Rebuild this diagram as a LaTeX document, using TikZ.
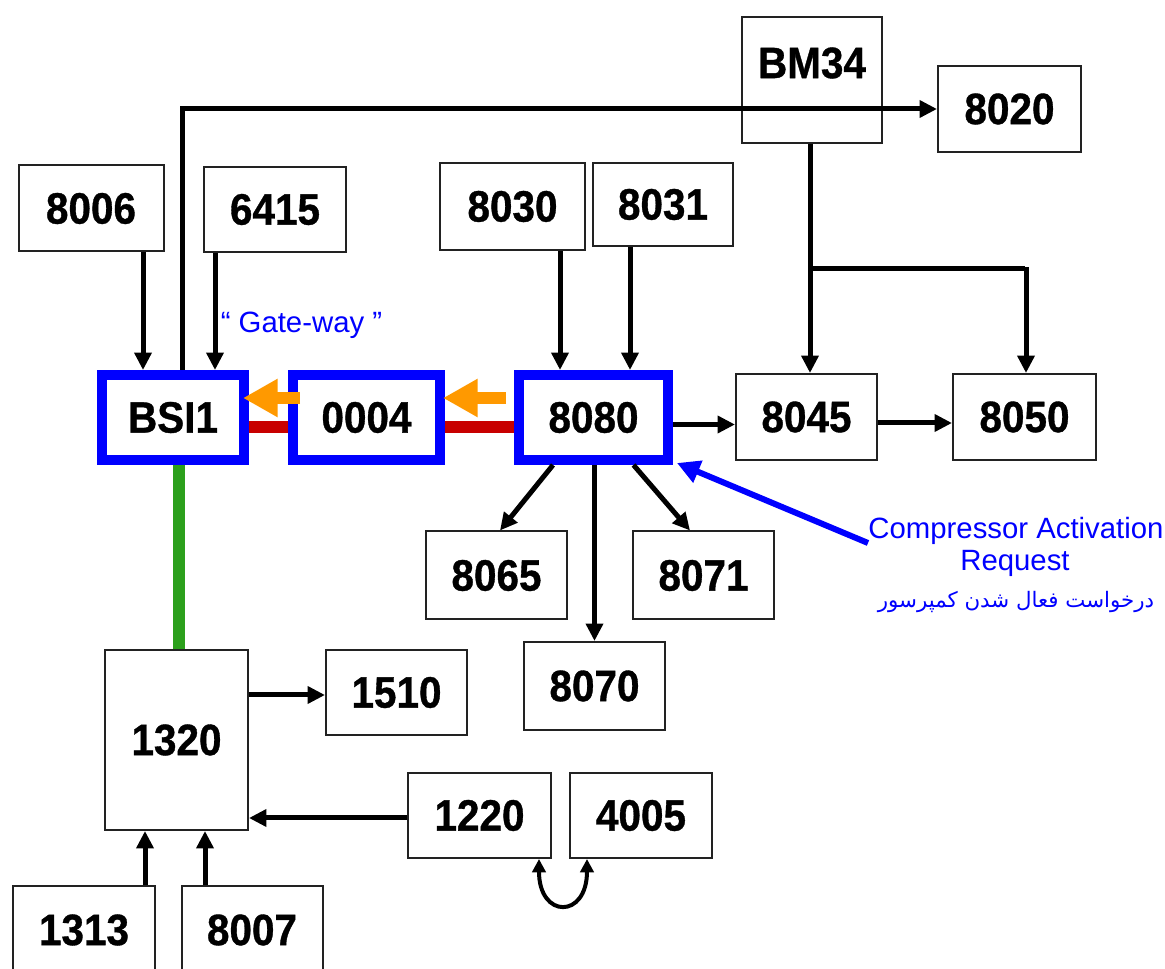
\documentclass[tikz,border=0pt]{standalone}
\usepackage{fontspec}
\setmainfont{Liberation Sans}
\newfontfamily\numfont[FakeStretch=0.92,FakeBold=0.8]{Liberation Sans}
\newfontfamily\persianfont[Script=Arabic]{DejaVu Sans}
\TeXXeTstate=1
\usetikzlibrary{arrows.meta,calc}
\definecolor{boxline}{HTML}{222222}
\definecolor{redbus}{HTML}{C80000}
\definecolor{greenbus}{HTML}{2CA01C}
\definecolor{orangearr}{HTML}{FF9900}
\tikzset{
  numtxt/.style={font=\numfont\bfseries\fontsize{33}{33}\selectfont},
  box/.style 2 args={draw=boxline, line width=1.5pt, fill=white, minimum width=#1*0.75pt, minimum height=#2*0.75pt, inner sep=0pt, numtxt},
  bbox/.style 2 args={draw=blue, line width=7.5pt, fill=white, minimum width=#1*0.75pt, minimum height=#2*0.75pt, inner sep=0pt, numtxt},
  conn/.style={line width=3.75pt, draw=black, -{Triangle[length=13pt,width=12.5pt]}},
  plain/.style={line width=3.75pt, draw=black},
  redbusline/.style={line width=9pt, draw=redbus},
  greenbusline/.style={line width=9pt, draw=greenbus},
  orangeflow/.style={line width=9pt, draw=orangearr, -{Triangle[length=26pt,width=27pt]}},
  bluearrow/.style={line width=4.5pt, draw=blue, -{Triangle[length=17pt,width=17pt]}},
  bluetxt/.style={text=blue, font=\fontsize{22}{22}\selectfont, inner sep=0pt},
}
\begin{document}
\begin{tikzpicture}[x=0.75pt,y=-0.75pt]
\useasboundingbox (0,0) rectangle (1165,969);
\fill[white] (0,0) rectangle (1165,969);

% plain boxes
\node[box={140}{126}] (bm34) at (812,80) {};
\node[numtxt] (bm34t) at (812,63) {BM34};
\node[box={143}{86}] (n8020) at (1009.5,109) {8020};
\node[box={145}{86}] (n8006) at (91,208.5) {8006};
\node[box={142}{85}] (n6415) at (275,209.5) {6415};
\node[box={145}{87}] (n8030) at (512.5,206.5) {8030};
\node[box={140}{83}] (n8031) at (663,204.5) {8031};
\node[box={141}{86}] (n8045) at (806.5,417) {8045};
\node[box={143}{86}] (n8050) at (1024.5,417) {8050};
\node[box={141}{88}] (n8065) at (496.5,575.5) {8065};
\node[box={141}{88}] (n8071) at (703.5,575.5) {8071};
\node[box={141}{88}] (n8070) at (594.5,686) {8070};
\node[box={143}{180}] (n1320) at (176.5,740) {1320};
\node[box={141}{85}] (n1510) at (396.5,692.5) {1510};
\node[box={143}{85}] (n1220) at (479.5,815.5) {1220};
\node[box={142}{85}] (n4005) at (641,815.5) {4005};
\node[box={142}{88}] (n1313) at (84,930) {1313};
\node[box={141}{88}] (n8007) at (252,930) {8007};

% blue boxes
\node[bbox={142}{85}] (bsi1) at (173,417.5) {BSI1};
\node[bbox={147}{85}] (n0004) at (366.5,417.5) {0004};
\node[bbox={149}{85}] (n8080) at (593.5,417.5) {8080};

% buses
\draw[redbusline] ($(bsi1.east)+(0,9.5)$) coordinate (r1) -- (r1 -| n0004.west);
\draw[redbusline] ($(n0004.east)+(0,9.5)$) coordinate (r2) -- (r2 -| n8080.west);
\draw[greenbusline] ($(bsi1.south)+(6,0)$) coordinate (g1) -- (g1 |- n1320.north);

% gateway flows
\draw[orangeflow] ($(n0004.west)+(12,-19.5)$) -- ($(bsi1.east)+(-6,-19.5)$);
\draw[orangeflow] ($(n8080.west)+(-8,-19.5)$) -- ($(n0004.east)+(-2,-19.5)$);

% BSI1 to 8020
\draw[conn] ($(bsi1.north)+(9,0)$) |- (n8020.west);
% inputs to BSI1
\draw[conn] ($(n8006.south)+(52,0)$) coordinate (a1) -- (a1 |- bsi1.north);
\draw[conn] ($(n6415.south)+(-60,0)$) coordinate (a2) -- (a2 |- bsi1.north);
% inputs to 8080
\draw[conn] ($(n8030.south)+(47.5,0)$) coordinate (a3) -- (a3 |- n8080.north);
\draw[conn] ($(n8031.south)+(-33,0)$) coordinate (a4) -- (a4 |- n8080.north);
% BM34 distribution
\draw[conn] ($(bm34.south)+(-2,0)$) coordinate (a5) -- (a5 |- n8045.north);
\coordinate (jn) at ($(a5)+(0,125)$);
\draw[plain] (jn) -- (jn -| n8050.north) coordinate (jn2);
\draw[conn] ($(jn2)+(1.5,-1.875)$) -- ($(n8050.north)+(1.5,0)$);
% 8080 outputs
\draw[conn] ($(n8080.east)+(0,7)$) coordinate (a6) -- (a6 -| n8045.west);
\draw[conn] ($(n8045.east)+(0,6)$) coordinate (a7) -- (a7 -| n8050.west);
\draw[conn] ($(n8080.south)+(-40.5,0)$) -- ($(n8065.north)+(3.5,0)$);
\draw[conn] ($(n8080.south)+(40,0)$) -- ($(n8071.north)+(-13.5,0)$);
\draw[conn] (n8070.north |- n8080.south) -- (n8070.north);
% 1320 group
\coordinate (a8) at ($(n1510.west)+(0,2.5)$);
\draw[conn] (a8 -| n1320.east) -- (a8);
\draw[conn] ($(n1220.west)+(0,2.5)$) coordinate (a9) -- (a9 -| n1320.east);
\draw[conn] ($(n1313.north)+(61,0)$) coordinate (a10) -- (a10 |- n1320.south);
\draw[conn] ($(n8007.north)+(-47,0)$) coordinate (a11) -- (a11 |- n1320.south);
\draw[line width=3pt, {Triangle[length=10pt,width=10pt]}-{Triangle[length=10pt,width=10pt]}]
  ($(n1220.south east)+(-13,0)$) .. controls ($(n1220.south east)+(-13,60)$) and ($(n4005.south west)+(18,60)$) .. ($(n4005.south west)+(18,0)$);

% annotations
\node[bluetxt] (gw) at (301.5,325) {“ Gate-way ”};
\coordinate (annstart) at (868,543);
\draw[bluearrow] (annstart) -- ($(n8080.south east)+(4,-2)$);
\node[bluetxt] (cmp1) at (1016,531) {Compressor Activation};
\node[bluetxt] (cmp2) at (1015,563) {Request};
\node[text=blue, font=\persianfont\fontsize{16}{16}\selectfont, inner sep=0pt] (cmp3) at (1016,602) {\beginR درخواست فعال شدن کمپرسور\endR};
\end{tikzpicture}
\end{document}
